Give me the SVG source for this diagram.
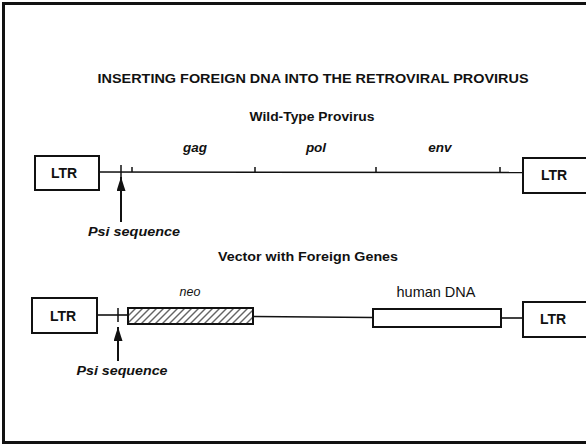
<svg xmlns="http://www.w3.org/2000/svg" width="586" height="446" viewBox="0 0 586 446">
<defs>
<style>
.t{font-family:"Liberation Sans",Arial,sans-serif;fill:#111}
.h{font-weight:bold}
.bi{font-weight:bold;font-style:italic}
.i{font-style:italic}
.box{fill:#fff;stroke:#111;stroke-width:2}
.ln{stroke:#111;stroke-width:1.6;fill:none}
.tk{stroke:#111;stroke-width:1.5}
.ar{stroke:#111;stroke-width:2;fill:none}
.ltr{font-weight:bold;font-size:14px}
</style>
<pattern id="hatch" patternUnits="userSpaceOnUse" width="7" height="7" patternTransform="skewX(-45)">
<line x1="3" y1="0" x2="3" y2="7" stroke="#111" stroke-width="1.3"/>
</pattern>
<marker id="ah" viewBox="0 0 10 10" refX="10" refY="5" markerWidth="14" markerHeight="9" markerUnits="userSpaceOnUse" orient="auto" preserveAspectRatio="none">
<path d="M0,0 L10,5 L0,10 Z" fill="#111"/>
</marker>
</defs>
<rect width="586" height="446" fill="#fff"/>
<rect x="3.5" y="3.5" width="590" height="439" fill="none" stroke="#111" stroke-width="3"/>

<g id="title"><text class="t h" x="313" y="83" font-size="13" text-anchor="middle" textLength="431" lengthAdjust="spacingAndGlyphs">INSERTING FOREIGN DNA INTO THE RETROVIRAL PROVIRUS</text></g>
<g id="wt-title"><text class="t h" x="312" y="121" font-size="12.5" text-anchor="middle" textLength="125" lengthAdjust="spacingAndGlyphs">Wild-Type Provirus</text></g>

<g id="connectors">
<line class="ln" x1="99" y1="172" x2="523" y2="172.5"/>
<line class="tk" x1="121" y1="165" x2="121" y2="180"/>
<line class="tk" x1="132" y1="167" x2="132" y2="172"/>
<line class="tk" x1="255" y1="167" x2="255" y2="172"/>
<line class="tk" x1="376" y1="167" x2="376" y2="172"/>
<line class="tk" x1="500" y1="167" x2="500" y2="172"/>
<line class="ar" x1="121" y1="222" x2="121" y2="177" marker-end="url(#ah)"/>

<line class="ln" x1="97" y1="315" x2="128" y2="315"/>
<line class="tk" x1="118" y1="308" x2="118" y2="322"/>
<line class="ln" x1="253" y1="316.5" x2="373" y2="317.5"/>
<line class="ln" x1="501" y1="318" x2="523" y2="318"/>
<line class="ar" x1="118" y1="361" x2="118" y2="327" marker-end="url(#ah)"/>
</g>

<g id="wt-ltr-left"><rect class="box" x="35" y="156" width="64" height="34"/><text class="t ltr" x="64" y="178" text-anchor="middle">LTR</text></g>
<g id="wt-ltr-right"><rect class="box" x="523" y="158" width="80" height="35"/><text class="t ltr" x="554" y="180" text-anchor="middle">LTR</text></g>
<g id="wt-labels">
<text class="t bi" x="195" y="152" font-size="13.5" text-anchor="middle">gag</text>
<text class="t bi" x="316" y="152" font-size="13.5" text-anchor="middle">pol</text>
<text class="t bi" x="440" y="152" font-size="13.5" text-anchor="middle">env</text>
</g>
<g id="wt-psi"><text class="t bi" x="134" y="236" font-size="13.5" text-anchor="middle" textLength="92" lengthAdjust="spacingAndGlyphs">Psi sequence</text></g>

<g id="vec-title"><text class="t h" x="308" y="261" font-size="12.5" text-anchor="middle" textLength="180" lengthAdjust="spacingAndGlyphs">Vector with Foreign Genes</text></g>
<g id="vec-ltr-left"><rect class="box" x="32" y="298" width="65" height="35"/><text class="t ltr" x="63" y="321" text-anchor="middle">LTR</text></g>
<g id="neo"><rect x="128" y="308" width="125" height="16" fill="url(#hatch)" stroke="#111" stroke-width="2"/><text class="t i" x="190" y="296" font-size="12.5" text-anchor="middle">neo</text></g>
<g id="human-dna"><rect class="box" x="373" y="309" width="128" height="18"/><text class="t" x="436" y="297" font-size="14.5" text-anchor="middle">human DNA</text></g>
<g id="vec-ltr-right"><rect class="box" x="523" y="302" width="80" height="35"/><text class="t ltr" x="553" y="324" text-anchor="middle">LTR</text></g>
<g id="vec-psi"><text class="t bi" x="122" y="375" font-size="13.5" text-anchor="middle" textLength="91" lengthAdjust="spacingAndGlyphs">Psi sequence</text></g>
</svg>
